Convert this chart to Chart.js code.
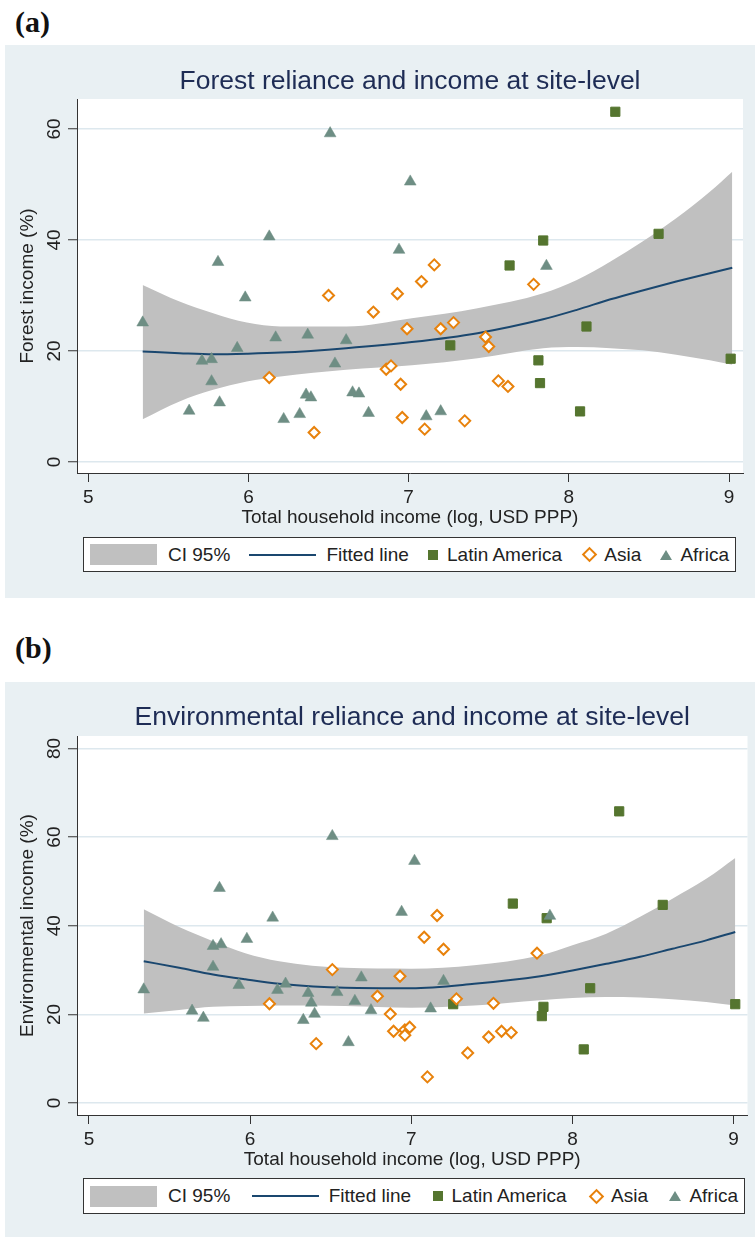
<!DOCTYPE html>
<html>
<head>
<meta charset="utf-8">
<script src="https://cdn.jsdelivr.net/npm/chart.js@4.4.1/dist/chart.umd.min.js"></script>
<style>
  body { margin: 0; background: #fff; width: 755px; height: 1237px; position: relative; overflow: hidden; font-family: "Liberation Sans", Arial, sans-serif; }
  .tag { position: absolute; left: 15px; font: bold 30px "Liberation Serif", "Times New Roman", serif; line-height: 1; color: #111; }
  .panel { position: absolute; left: 5px; width: 750px; background: #e9f0f3; }
  .panel canvas { position: absolute; left: 0; top: 0; }
  .legend { position: absolute; box-sizing: border-box; border: 1px solid #333; background: #fff; display: flex; align-items: center; justify-content: space-between; padding: 0 6px; font-size: 19px; color: #222; }
  .item { display: flex; align-items: center; }
  .ci { width: 67px; height: 21px; background: #c0c0c0; margin-right: 11px; }
  .ln { width: 67px; height: 2px; background: #1a476f; margin-right: 10px; }
  .sq { width: 10px; height: 10px; background: #55752f; margin-right: 9px; }
  .dm { width: 7px; height: 7px; border: 2px solid #e8820c; background: #fff; transform: rotate(45deg); margin: 0 9px 0 3px; }
  .tr { width: 0; height: 0; border-left: 6px solid transparent; border-right: 6px solid transparent; border-bottom: 10px solid #6e8e84; margin-right: 8px; }
</style>
</head>
<body>

<div class="tag" style="top:7px">(a)</div>
<div class="panel" style="top:45px;height:553px">
  <canvas id="chartA" width="750" height="553"></canvas>
  <div class="legend" style="left:78px;top:492px;width:653px;height:35px">
    <div class="item"><span class="ci"></span>CI 95%</div>
    <div class="item"><span class="ln"></span>Fitted line</div>
    <div class="item"><span class="sq"></span>Latin America</div>
    <div class="item"><span class="dm"></span>Asia</div>
    <div class="item"><span class="tr"></span>Africa</div>
  </div>
</div>

<div class="tag" style="top:633px">(b)</div>
<div class="panel" style="top:682px;height:555px">
  <canvas id="chartB" width="750" height="555"></canvas>
  <div class="legend" style="left:78px;top:496px;width:662px;height:36px">
    <div class="item"><span class="ci"></span>CI 95%</div>
    <div class="item"><span class="ln"></span>Fitted line</div>
    <div class="item"><span class="sq"></span>Latin America</div>
    <div class="item"><span class="dm"></span>Asia</div>
    <div class="item"><span class="tr"></span>Africa</div>
  </div>
</div>

<script>
// ---- data ----
var xTicks = [5, 6, 7, 8, 9];
var yTicksA = [0, 20, 40, 60];
var yTicksB = [0, 20, 40, 60, 80];

// (a) forest income
var africaAX = [5.34, 5.63, 5.71, 5.77, 5.77, 5.81, 5.82, 5.93, 5.98, 6.13, 6.17, 6.22, 6.32, 6.36, 6.39, 6.37, 6.51, 6.54, 6.61, 6.65, 6.69, 6.75, 6.94, 7.01, 7.11, 7.20, 7.86];
var africaAY = [25.1, 9.2, 18.2, 18.5, 14.5, 36.0, 10.7, 20.5, 29.6, 40.6, 22.4, 7.7, 8.6, 12.1, 11.6, 22.9, 59.2, 17.7, 21.9, 12.5, 12.3, 8.8, 38.2, 50.5, 8.2, 9.1, 35.3];
var asiaAX = [6.13, 6.41, 6.50, 6.78, 6.86, 6.89, 6.93, 6.95, 6.96, 6.99, 7.10, 7.08, 7.16, 7.20, 7.28, 7.35, 7.48, 7.50, 7.56, 7.62, 7.78];
var asiaAY = [15.2, 5.3, 30.0, 27.0, 16.7, 17.3, 30.3, 14.0, 8.0, 24.0, 5.9, 32.5, 35.5, 24.0, 25.1, 7.4, 22.5, 20.8, 14.6, 13.6, 32.0];
var latamAX = [7.26, 7.63, 7.81, 7.82, 7.84, 8.07, 8.11, 8.29, 8.56, 9.01];
var latamAY = [21.0, 35.4, 18.3, 14.2, 39.9, 9.1, 24.4, 63.1, 41.1, 18.6];
var fitAX = [5.34, 5.57, 5.78, 5.99, 6.20, 6.61, 7.02, 7.43, 7.84, 8.05, 8.26, 8.46, 8.67, 8.88, 9.02];
var fitAY = [19.9, 19.6, 19.4, 19.5, 19.7, 20.5, 21.6, 23.2, 25.7, 27.4, 29.3, 30.9, 32.5, 34.0, 35.0];
var ciHiA = [31.9, 28.9, 26.8, 25.1, 24.4, 24.4, 25.9, 27.7, 30.4, 32.8, 36.1, 39.7, 43.9, 48.7, 52.3];
var ciLoA = [7.7, 10.9, 13.0, 14.5, 15.4, 16.6, 17.4, 18.7, 20.5, 20.7, 20.5, 20.1, 19.3, 18.3, 17.5];

// (b) environmental income
var africaBX = [5.34, 5.64, 5.71, 5.77, 5.77, 5.82, 5.81, 5.93, 5.98, 6.14, 6.17, 6.22, 6.33, 6.36, 6.38, 6.40, 6.51, 6.54, 6.61, 6.65, 6.69, 6.75, 6.94, 7.02, 7.12, 7.20, 7.86];
var africaBY = [25.6, 20.8, 19.2, 30.7, 35.4, 35.8, 48.5, 26.6, 37.0, 41.8, 25.5, 26.9, 18.7, 24.8, 22.6, 20.1, 60.2, 25.0, 13.7, 23.0, 28.3, 20.9, 43.1, 54.6, 21.3, 27.5, 42.2];
var asiaBX = [6.12, 6.41, 6.51, 6.79, 6.87, 6.89, 6.93, 6.96, 6.96, 6.99, 7.10, 7.08, 7.16, 7.20, 7.28, 7.35, 7.48, 7.51, 7.56, 7.62, 7.78];
var asiaBY = [22.4, 13.4, 30.1, 24.1, 20.1, 16.2, 28.6, 16.5, 15.3, 17.1, 5.9, 37.4, 42.3, 34.7, 23.5, 11.3, 14.9, 22.5, 16.2, 15.9, 33.8];
var latamBX = [7.26, 7.63, 7.82, 7.81, 7.84, 8.07, 8.11, 8.29, 8.56, 9.01];
var latamBY = [22.3, 45.0, 21.7, 19.6, 41.7, 12.1, 25.9, 65.8, 44.7, 22.3];
var fitBX = [5.34, 5.56, 5.77, 5.97, 6.18, 6.59, 7.00, 7.39, 7.80, 8.00, 8.21, 8.42, 8.62, 8.83, 9.01];
var fitBY = [32.0, 30.5, 29.0, 27.9, 26.9, 26.0, 25.9, 26.9, 28.6, 29.9, 31.4, 33.0, 34.8, 36.7, 38.6];
var ciHiB = [43.7, 39.7, 36.5, 33.8, 32.0, 30.5, 30.3, 31.1, 33.3, 35.6, 38.2, 42.0, 46.1, 50.6, 55.3];
var ciLoB = [20.2, 21.0, 21.7, 21.9, 22.0, 21.9, 21.5, 22.0, 23.2, 23.7, 23.9, 23.8, 23.4, 22.8, 22.0];

var FONT = '"Liberation Sans", Arial, sans-serif';

function toPoints(xs, ys) {
    return xs.map(function (x, i) { return { x: x, y: ys[i] }; });
}

function markers(label, xs, ys, style, fill, stroke, radius, bw) {
    return {
        label: label, data: toPoints(xs, ys), pointStyle: style,
        pointRadius: radius, pointBackgroundColor: fill, pointBorderColor: stroke,
        pointBorderWidth: bw, showLine: false
    };
}

function curve(label, xs, ys, color, width, fill) {
    return {
        label: label, data: toPoints(xs, ys), showLine: true, pointRadius: 0,
        borderColor: color, borderWidth: width, backgroundColor: '#c0c0c0',
        fill: fill, cubicInterpolationMode: 'monotone'
    };
}

// white plot region
var plotBg = {
    id: 'plotBg',
    beforeDraw: function (chart) {
        var a = chart.chartArea, ctx = chart.ctx;
        ctx.save();
        ctx.fillStyle = '#fff';
        ctx.fillRect(a.left, a.top, a.right - a.left, a.bottom - a.top);
        ctx.restore();
    }
};

// y tick labels are written vertically, as in the original
var verticalYLabels = {
    id: 'verticalYLabels',
    afterDraw: function (chart) {
        var s = chart.scales.y, ctx = chart.ctx;
        ctx.save();
        ctx.font = '19px ' + FONT;
        ctx.fillStyle = '#222';
        ctx.textAlign = 'center';
        ctx.textBaseline = 'middle';
        s.ticks.forEach(function (t) {
            ctx.save();
            ctx.translate(s.left + 50, s.getPixelForValue(t.value));
            ctx.rotate(-Math.PI / 2);
            ctx.fillText(String(t.value), 0, 0);
            ctx.restore();
        });
        ctx.restore();
    }
};

function drawPanel(id, p) {
    var ctx = document.getElementById(id).getContext('2d');
    return new Chart(ctx, {
        type: 'scatter',
        data: {
            datasets: [
                markers('Africa', p.afX, p.afY, 'triangle', '#6e8e84', '#6e8e84', 6.8, 0.5),
                markers('Asia', p.asX, p.asY, 'rectRot', '#ffffff', '#e8820c', 5.5, 2),
                markers('Latin America', p.laX, p.laY, 'rect', '#55752f', '#55752f', 6.5, 1),
                curve('Fitted line', p.cx, p.fit, '#1a476f', 2, false),
                curve('CI 95% upper', p.cx, p.hi, 'rgba(0,0,0,0)', 0, '+1'),
                curve('CI 95% lower', p.cx, p.lo, 'rgba(0,0,0,0)', 0, false)
            ]
        },
        options: {
            responsive: false,
            animation: false,
            layout: { padding: { left: 0, right: p.padR, top: 0, bottom: p.padB } },
            plugins: {
                legend: { display: false },
                tooltip: { enabled: false },
                title: {
                    display: true, text: p.title, fullSize: false, color: '#1e2c55',
                    font: { family: FONT, size: 26.5, weight: 'normal' },
                    padding: { top: p.titleTop, bottom: 54 - 31.8 - p.titleTop }
                }
            },
            scales: {
                x: {
                    type: 'linear', min: p.xMin, max: p.xMax,
                    afterBuildTicks: function (s) { s.ticks = xTicks.map(function (v) { return { value: v }; }); },
                    afterFit: function (s) { s.height = 70; },
                    grid: { drawOnChartArea: false, tickLength: 9, tickColor: '#333', tickWidth: 1 },
                    border: { color: '#333', width: 1 },
                    ticks: { padding: 4, color: '#222', font: { family: FONT, size: 19 } },
                    title: {
                        display: true, text: 'Total household income (log, USD PPP)', color: '#222',
                        font: { family: FONT, size: 19 }, padding: { top: 0, bottom: 13.6 }
                    }
                },
                y: {
                    min: p.yMin, max: p.yMax,
                    afterBuildTicks: function (s) { s.ticks = p.yTicks.map(function (v) { return { value: v }; }); },
                    afterFit: function (s) { s.width = 72; },
                    grid: { color: '#dde8ee', lineWidth: 1.5, tickLength: 9, tickColor: '#333', tickWidth: 1 },
                    border: { color: '#333', width: 1 },
                    ticks: { display: false },
                    title: {
                        display: true, text: p.yTitle, color: '#222',
                        font: { family: FONT, size: 19 }, padding: { top: 11.6, bottom: 0 }
                    }
                }
            }
        },
        plugins: [plotBg, verticalYLabels]
    });
}

drawPanel('chartA', {
    title: 'Forest reliance and income at site-level', yTitle: 'Forest income (%)',
    afX: africaAX, afY: africaAY, asX: asiaAX, asY: asiaAY, laX: latamAX, laY: latamAY,
    cx: fitAX, fit: fitAY, hi: ciHiA, lo: ciLoA,
    xMin: 4.93, xMax: 9.087, yMin: -2, yMax: 65.4, yTicks: yTicksA,
    titleTop: 20.6, padR: 12, padB: 55
});

drawPanel('chartB', {
    title: 'Environmental reliance and income at site-level', yTitle: 'Environmental income (%)',
    afX: africaBX, afY: africaBY, asX: asiaBX, asY: asiaBY, laX: latamBX, laY: latamBY,
    cx: fitBX, fit: fitBY, hi: ciHiB, lo: ciLoB,
    xMin: 4.926, xMax: 9.086, yMin: -2.7, yMax: 82.8, yTicks: yTicksB,
    titleTop: 19.6, padR: 3, padB: 52
});
</script>
</body>
</html>
